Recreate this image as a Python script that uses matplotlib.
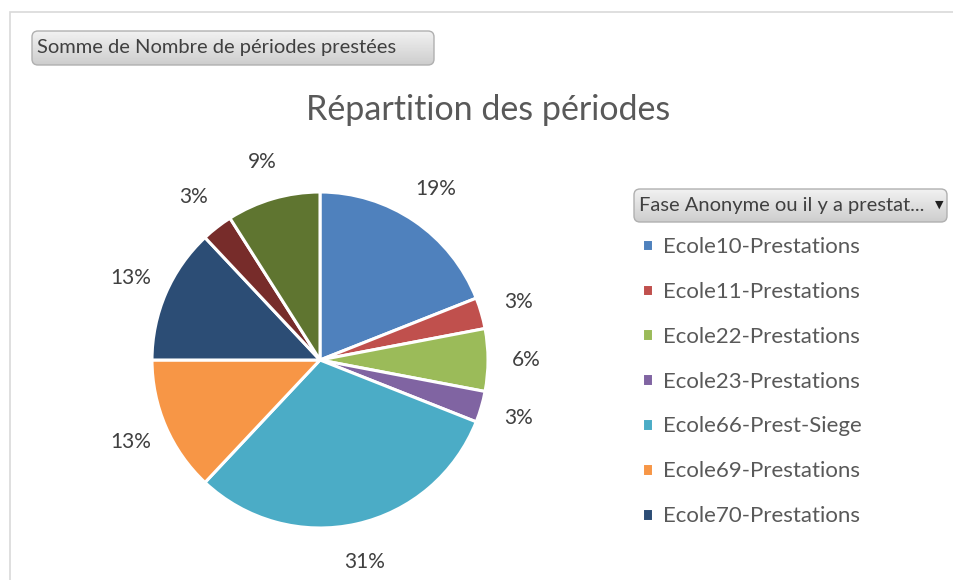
import numpy as np
import matplotlib.pyplot as plt
from matplotlib.patches import FancyBboxPatch, Rectangle

plt.rcParams['font.family'] = ['Lato', 'DejaVu Sans']

# data
categories = ["Ecole10-Prestations", "Ecole11-Prestations", "Ecole22-Prestations",
              "Ecole23-Prestations", "Ecole66-Prest-Siege", "Ecole69-Prestations",
              "Ecole70-Prestations", "Ecole71-Prestations", "Ecole72-Prestations"]
values = [19, 3, 6, 3, 31, 13, 13, 3, 9]
colors = ["#4F81BD", "#C0504D", "#9BBB59", "#8064A2", "#4BACC6", "#F79646",
          "#2C4D75", "#772C2A", "#5F7530"]
n_legend = 7

W, H = 954, 580
fig = plt.figure(figsize=(W / 100, H / 100), dpi=100)
fig.patch.set_facecolor("white")


def button(x, y, w, h, label):
    # gray gradient button with rounded corners, pixel coords from top left
    bax = fig.add_axes([x / W, (H - y - h) / H, w / W, h / H])
    bax.set_axis_off()
    grad = np.linspace(0.95, 0.80, 50).reshape(-1, 1)
    im = bax.imshow(grad, cmap="gray", vmin=0, vmax=1, aspect="auto",
                    extent=(0, 1, 0, 1), origin="upper")
    box = FancyBboxPatch((1 / w, 1 / h), 1 - 2 / w, 1 - 2 / h,
                         boxstyle="round,pad=0,rounding_size=%f" % (6 / w),
                         mutation_aspect=w / h, transform=bax.transAxes,
                         facecolor="none", edgecolor="#B0B0B0", linewidth=1)
    bax.add_patch(box)
    im.set_clip_path(box)
    bax.set_xlim(0, 1)
    bax.set_ylim(0, 1)
    bax.text(6 / w, 0.5, label, fontsize=14.5, color="#404040",
             va="center", ha="left", transform=bax.transAxes)
    return bax


# chart frame
fig.patches.append(Rectangle((10 / W, -0.1), 1.2, (H - 12) / H + 0.1, transform=fig.transFigure,
                             fill=False, edgecolor="#D9D9D9", linewidth=1.2))

button(31, 30, 404, 36, "Somme de Nombre de périodes prestées")

# title
fig.text(488 / W, (H - 110) / H, "Répartition des périodes", fontsize=24.5,
         color="#595959", ha="center", va="center")

# pie
cx, cy, r = 320, 360, 168
ax = fig.add_axes([(cx - r) / W, (H - cy - r) / H, 2 * r / W, 2 * r / H])
wedges, texts, autotexts = ax.pie(values, colors=colors, startangle=90, counterclock=False,
                                  autopct="%1.0f%%", pctdistance=1.23,
                                  wedgeprops=dict(edgecolor="white", linewidth=2.2),
                                  textprops=dict(fontsize=15, color="#404040"))
ax.set_xlim(-1, 1)
ax.set_ylim(-1, 1)
ax.set_aspect("equal")

# legend button
lb = button(633, 188, 315, 35, "Fase Anonyme ou il y a prestat...")
lb.text(0.972, 0.52, "▼", fontsize=8, color="#202020", va="center", ha="center",
        family="DejaVu Sans", transform=lb.transAxes)

fig.legend(wedges[:n_legend], categories[:n_legend], loc="upper left",
           bbox_to_anchor=(633 / W, (H - 228) / H), frameon=False, fontsize=16,
           handlelength=0.5, handleheight=0.5, handletextpad=0.45, labelspacing=1.12,
           labelcolor="#595959", borderaxespad=0)

fig.savefig("out.png", dpi=100)
